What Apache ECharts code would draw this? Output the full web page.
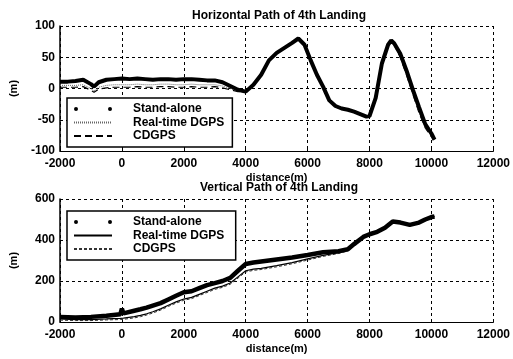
<!DOCTYPE html>
<html>
<head>
<meta charset="utf-8">
<script src="https://cdn.jsdelivr.net/npm/echarts@6/dist/echarts.min.js"></script>
<style>
  html, body { margin: 0; padding: 0; background: #fff; }
  #chart { width: 513px; height: 359px; }
</style>
</head>
<body>
<div id="chart"></div>
<script>
// Horizontal path (lateral offset, m) against distance along the approach (m)
const hDist = [-2000,-1750,-1500,-1250,-1000,-900,-750,-500,-250,0,250,500,750,1000,1250,1500,1750,2000,2250,2500,2750,3000,3250,3500,3750,4000,4250,4500,4750,5000,5250,5500,5700,5900,6100,6300,6500,6700,6900,7100,7300,7500,7700,7900,8000,8200,8400,8600,8700,8800,9000,9200,9400,9600,9800,10000,10100];
const hStandAlone = [11,11,12,14,7,3,10,14,15,16,15,16,15,14,15,15,14,15,15,14,13,13,10,4,-2,-5,6,22,45,57,65,73,80,70,45,22,3,-19,-28,-32,-34,-37,-41,-45,-44,-15,40,70,77,72,55,28,-2,-30,-57,-72,-82];
const hDgps      = [5,5,5,6,0,-4,2,5,6,6,6,7,6,6,7,7,6,6,7,6,6,6,4,0,-4,-6,5,21,44,56,64,72,79,69,44,21,2,-20,-29,-33,-35,-38,-42,-46,-45,-16,38,68,76,70,50,22,-8,-38,-62,-76,-80];
const hCdgps     = [2,2,2,3,-3,-6,-1,1,2,2,2,3,2,2,3,3,2,2,3,2,2,3,1,-2,-5,-6,5,21,44,56,64,72,79,69,44,21,2,-20,-29,-33,-35,-38,-42,-46,-45,-16,38,68,76,70,49,21,-9,-39,-63,-77,-81];

// Vertical path (height, m) against distance along the approach (m)
const vDist = [-2000,-1500,-1000,-500,-50,0,50,400,600,800,1000,1250,1500,1750,2000,2250,2500,2750,3000,3250,3500,3750,4000,4250,4500,5000,5500,6000,6500,7000,7300,7500,7800,8000,8250,8500,8750,9000,9300,9600,9800,10000,10100];
const vStandAlone = [25,22,25,30,38,65,42,55,62,70,80,92,110,128,145,150,165,180,190,200,215,250,283,290,295,305,315,327,340,345,355,380,415,428,440,460,490,485,474,485,500,512,515];
const vDgps       = [15,12,12,15,18,18,19,26,32,40,50,64,82,98,112,120,135,150,165,175,190,220,250,258,262,275,290,308,325,338,350,376,414,427,440,460,490,485,474,485,500,512,515];
const vCdgps      = [9,7,7,10,12,12,13,20,26,34,44,58,76,92,106,114,129,144,159,169,184,214,244,252,256,269,284,302,320,334,347,374,413,427,440,460,490,485,474,485,500,512,515];

const xTicks = [-2000, 12000, 2000];   // min, max, step of the distance axis
const hTicks = [-100, 100, 50];
const vTicks = [0, 600, 200];
const seriesNames = ['Stand-alone', 'Real-time DGPS', 'CDGPS'];

const pair = (xs, ys) => xs.map((x, i) => [x, ys[i]]);

const FONT = 'Liberation Sans, Arial, sans-serif';
const axisLabel = { color: '#000', fontFamily: FONT, fontWeight: 'bold', fontSize: 12, formatter: v => String(v) };
const splitLine = { show: true, lineStyle: { color: '#000', type: [3, 3], width: 1 } };
const nameStyle = { color: '#000', fontFamily: FONT, fontWeight: 'bold', fontSize: 11 };

function xAxis(gridIndex) {
  return {
    type: 'value', gridIndex,
    min: xTicks[0], max: xTicks[1], interval: xTicks[2],
    name: 'distance(m)', nameLocation: 'middle', nameGap: 21,
    nameTextStyle: nameStyle,
    axisLine: { show: true, onZero: false, lineStyle: { color: '#000', width: 1 } },
    axisTick: { show: true, inside: true, length: 3, lineStyle: { color: '#000' } },
    axisLabel: Object.assign({ margin: 7 }, axisLabel),
    splitLine
  };
}
function yAxis(gridIndex, t) {
  return {
    type: 'value', gridIndex,
    min: t[0], max: t[1], interval: t[2],
    name: '(m)', nameLocation: 'middle', nameGap: 41,
    nameTextStyle: nameStyle,
    axisLine: { show: true, onZero: false, lineStyle: { color: '#000', width: 1.5 } },
    axisTick: { show: true, inside: true, length: 3, lineStyle: { color: '#000' } },
    axisLabel: Object.assign({ margin: 5 }, axisLabel),
    splitLine
  };
}

const legendBase = {
  orient: 'vertical',
  backgroundColor: '#fff',
  borderColor: '#000',
  borderWidth: 1.5,
  borderRadius: 0,
  padding: [5, 8, 5, 6],
  itemWidth: 38,
  itemHeight: 8,
  itemGap: 1.5,
  selectedMode: false,
  formatter: '{t|{name}}',
  textStyle: {
    color: '#000', fontFamily: FONT, fontWeight: 'bold', fontSize: 12,
    rich: { t: { padding: [0, 0, 0, 16], lineHeight: 12, color: '#000', fontFamily: FONT, fontWeight: 'bold', fontSize: 12 } }
  }
};
const dotsIcon = 'path://M0,2A2,2 0 1,0 4,2A2,2 0 1,0 0,2ZM34,2A2,2 0 1,0 38,2A2,2 0 1,0 34,2Z';
const lineOnly = { opacity: 0 };   // hide the legend symbol, keep the line sample

const option = {
  backgroundColor: '#fff',
  animation: false,
  title: [
    { text: 'Horizontal Path of 4th Landing', left: 274, top: 5, textAlign: 'center',
      textStyle: { color: '#000', fontFamily: FONT, fontWeight: 'bold', fontSize: 12 } },
    { text: 'Vertical Path of 4th Landing', left: 274, top: 177, textAlign: 'center',
      textStyle: { color: '#000', fontFamily: FONT, fontWeight: 'bold', fontSize: 12 } }
  ],
  grid: [
    { left: 53, top: 26, width: 442, height: 125 },
    { left: 53, top: 199, width: 442, height: 123 }
  ],
  xAxis: [xAxis(0), xAxis(1)],
  yAxis: [yAxis(0, hTicks), yAxis(1, vTicks)],
  legend: [
    Object.assign({}, legendBase, {
      left: 67, top: 98,
      data: [
        { name: seriesNames[0], icon: dotsIcon },
        { name: seriesNames[1], itemStyle: lineOnly },
        { name: seriesNames[2], itemStyle: lineOnly }
      ]
    }),
    Object.assign({}, legendBase, {
      left: 67, top: 211,
      data: [
        { name: seriesNames[0] + ' ', icon: dotsIcon },
        { name: seriesNames[1] + ' ', itemStyle: lineOnly },
        { name: seriesNames[2] + ' ', itemStyle: lineOnly }
      ]
    })
  ],
  series: [
    // horizontal path
    { name: seriesNames[2], type: 'line', xAxisIndex: 0, yAxisIndex: 0, symbol: 'none',
      data: pair(hDist, hCdgps), lineStyle: { color: '#000', width: 1.2, type: [7, 4] }, itemStyle: { color: '#000' } },
    { name: seriesNames[1], type: 'line', xAxisIndex: 0, yAxisIndex: 0, symbol: 'none',
      data: pair(hDist, hDgps), lineStyle: { color: '#666', width: 1, type: [1, 1] }, itemStyle: { color: '#666' } },
    { name: seriesNames[0], type: 'line', xAxisIndex: 0, yAxisIndex: 0, symbol: 'none',
      data: pair(hDist, hStandAlone), lineStyle: { color: '#000', width: 4 }, itemStyle: { color: '#000' } },
    // vertical path
    { name: seriesNames[2] + ' ', type: 'line', xAxisIndex: 1, yAxisIndex: 1, symbol: 'none',
      data: pair(vDist, vCdgps), lineStyle: { color: '#333', width: 1, type: [3, 2] }, itemStyle: { color: '#333' } },
    { name: seriesNames[1] + ' ', type: 'line', xAxisIndex: 1, yAxisIndex: 1, symbol: 'none',
      data: pair(vDist, vDgps), lineStyle: { color: '#000', width: 1.2 }, itemStyle: { color: '#000' } },
    { name: seriesNames[0] + ' ', type: 'line', xAxisIndex: 1, yAxisIndex: 1, symbol: 'none',
      data: pair(vDist, vStandAlone), lineStyle: { color: '#000', width: 4.5 }, itemStyle: { color: '#000' } }
  ]
};

const chart = echarts.init(document.getElementById('chart'), null, { renderer: 'canvas' });
chart.setOption(option);
</script>
</body>
</html>
